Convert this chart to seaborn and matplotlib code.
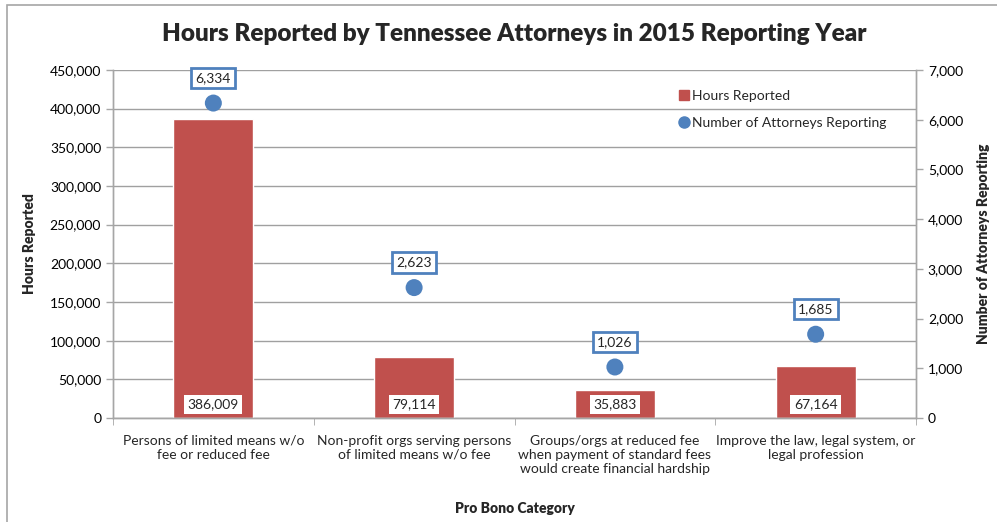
import matplotlib.pyplot as plt
import matplotlib.patches as mpatches
from matplotlib.lines import Line2D
from matplotlib.ticker import FuncFormatter, MultipleLocator, FixedLocator
import seaborn as sns
import pandas as pd

sns.set_style('white')
plt.rcParams['font.family'] = ['Lato', 'DejaVu Sans']

# Data
categories = ['Persons of limited means w/o\nfee or reduced fee',
              'Non-profit orgs serving persons\nof limited means w/o fee',
              'Groups/orgs at reduced fee\nwhen payment of standard fees\nwould create financial hardship',
              'Improve the law, legal system, or\nlegal profession']
hours = [386009, 79114, 35883, 67164]
attorneys = [6334, 2623, 1026, 1685]

df = pd.DataFrame({'category': categories, 'hours': hours, 'attorneys': attorneys})

bar_color = '#C0504D'
dot_color = '#4F81BD'
axis_gray = '#A6A6A6'

fig = plt.figure(figsize=(9.97, 5.22), dpi=100)
ax = fig.add_axes([0.1133, 0.1992, 0.8055, 0.6668])

# outer chart border
fig.patches.append(mpatches.Rectangle((7 / 997, -0.05), 1.2, 1 - 5 / 522 + 0.05,
                                      transform=fig.transFigure, fill=False,
                                      edgecolor=axis_gray, linewidth=1.2, zorder=0))

sns.barplot(data=df, x='category', y='hours', color=bar_color, width=0.4,
            saturation=1, ax=ax, zorder=2)
ax.set_ylim(0, 450000)
ax.yaxis.set_major_locator(MultipleLocator(50000))
ax.yaxis.set_major_formatter(FuncFormatter(lambda v, p: f'{int(v):,}'))
ax.grid(axis='y', color='#A0A0A0', linewidth=1)
ax.set_axisbelow(True)
ax.set_xlim(-0.5, 3.5)

ax2 = ax.twinx()
sns.scatterplot(data=df, x='category', y='attorneys', color=dot_color, s=150,
                edgecolor='none', ax=ax2, zorder=3)
ax2.set_ylim(0, 7000)
ax2.yaxis.set_major_locator(MultipleLocator(1000))
ax2.yaxis.set_major_formatter(FuncFormatter(lambda v, p: f'{int(v):,}'))
ax2.set_xlim(-0.5, 3.5)

for a in (ax, ax2):
    a.spines['top'].set_visible(False)
    for s in ('left', 'right', 'bottom'):
        a.spines[s].set_color(axis_gray)
        a.spines[s].set_linewidth(1)
    a.tick_params(axis='y', colors=axis_gray, labelcolor='black', labelsize=10,
                  direction='out', length=5, width=1)

ax.set_xticks(range(len(categories)))
ax.set_xticklabels(categories, fontsize=10)
ax.xaxis.set_minor_locator(FixedLocator([-0.5, 0.5, 1.5, 2.5, 3.5]))
ax.tick_params(axis='x', which='major', length=0, pad=12)
ax.tick_params(axis='x', which='minor', length=5, color=axis_gray, direction='out', bottom=True)
ax2.tick_params(axis='x', which='both', length=0, labelbottom=False)

ax.set_xlabel('Pro Bono Category', fontsize=10, fontweight='heavy', labelpad=20)
ax.set_ylabel('Hours Reported', fontsize=10, fontweight='heavy', labelpad=10)
ax2.set_ylabel('Number of Attorneys Reporting', fontsize=10, fontweight='heavy', labelpad=10)
ax.set_title('Hours Reported by Tennessee Attorneys in 2015 Reporting Year',
             fontsize=17.5, fontweight='heavy', pad=21)

# value labels
for i, (h, n) in enumerate(zip(hours, attorneys)):
    ax.annotate(f'{h:,}', xy=(i, 0), xytext=(0, 10), textcoords='offset points',
                ha='center', va='center', fontsize=10, zorder=5,
                bbox=dict(boxstyle='square,pad=0.25', facecolor='white', edgecolor='none'))
    ax2.annotate(f'{n:,}', xy=(i, n), xytext=(0, 18), textcoords='offset points',
                 ha='center', va='center', fontsize=10, zorder=5,
                 bbox=dict(boxstyle='square,pad=0.3', facecolor='white',
                           edgecolor=dot_color, linewidth=2))

handles = [Line2D([], [], marker='s', linestyle='none', color=bar_color, markersize=7),
           Line2D([], [], marker='o', linestyle='none', color=dot_color, markersize=8)]
ax2.legend(handles, ['Hours Reported', 'Number of Attorneys Reporting'],
           loc='upper left', bbox_to_anchor=(0.687, 0.978), frameon=False,
           fontsize=10, handletextpad=0.1, labelspacing=1.05, handlelength=1)

fig.savefig('out.png', dpi=100)
